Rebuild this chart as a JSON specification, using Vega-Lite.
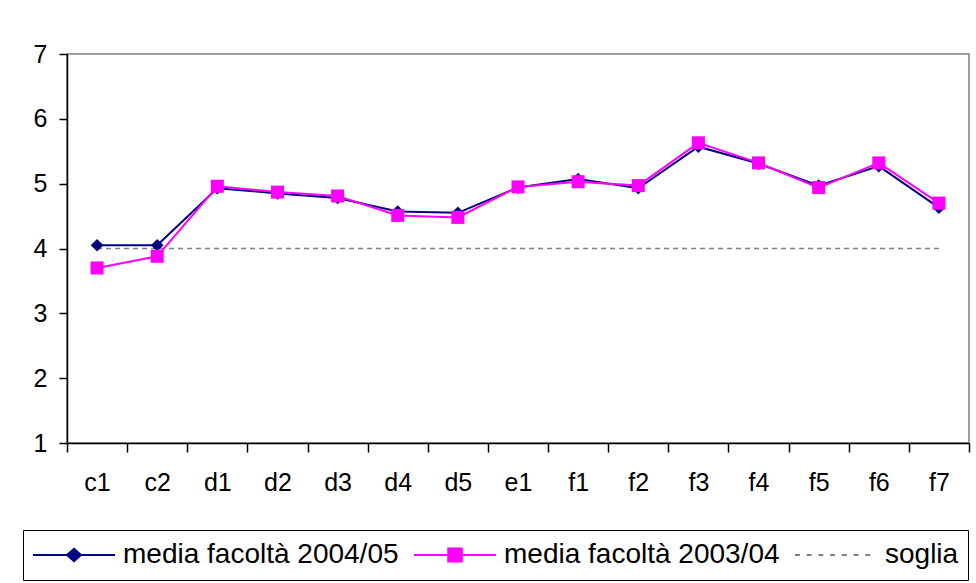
{
  "$schema": "https://vega.github.io/schema/vega-lite/v6.json",
  "width": 902,
  "height": 389,
  "autosize": {"type": "none"},
  "padding": {"left": 67, "top": 54, "right": 7, "bottom": 140},
  "background": "white",
  "config": {
    "font": "Liberation Sans",
    "view": {"stroke": "#808080", "strokeWidth": 1.5},
    "axis": {
      "domainColor": "#000000",
      "domainWidth": 1.5,
      "tickColor": "#000000",
      "tickWidth": 1.5,
      "labelColor": "#000000",
      "labelFont": "Liberation Sans",
      "labelFontSize": 25,
      "grid": false,
      "title": null
    }
  },
  "data": {
    "values": [
      {"cat": "c1", "series": "media facoltà 2004/05", "value": 4.05},
      {"cat": "c2", "series": "media facoltà 2004/05", "value": 4.05},
      {"cat": "d1", "series": "media facoltà 2004/05", "value": 4.93},
      {"cat": "d2", "series": "media facoltà 2004/05", "value": 4.85},
      {"cat": "d3", "series": "media facoltà 2004/05", "value": 4.78},
      {"cat": "d4", "series": "media facoltà 2004/05", "value": 4.57},
      {"cat": "d5", "series": "media facoltà 2004/05", "value": 4.55},
      {"cat": "e1", "series": "media facoltà 2004/05", "value": 4.94},
      {"cat": "f1", "series": "media facoltà 2004/05", "value": 5.07},
      {"cat": "f2", "series": "media facoltà 2004/05", "value": 4.93},
      {"cat": "f3", "series": "media facoltà 2004/05", "value": 5.57},
      {"cat": "f4", "series": "media facoltà 2004/05", "value": 5.31},
      {"cat": "f5", "series": "media facoltà 2004/05", "value": 4.97},
      {"cat": "f6", "series": "media facoltà 2004/05", "value": 5.27},
      {"cat": "f7", "series": "media facoltà 2004/05", "value": 4.63},
      {"cat": "c1", "series": "media facoltà 2003/04", "value": 3.70},
      {"cat": "c2", "series": "media facoltà 2003/04", "value": 3.88},
      {"cat": "d1", "series": "media facoltà 2003/04", "value": 4.96},
      {"cat": "d2", "series": "media facoltà 2003/04", "value": 4.87},
      {"cat": "d3", "series": "media facoltà 2003/04", "value": 4.81},
      {"cat": "d4", "series": "media facoltà 2003/04", "value": 4.51},
      {"cat": "d5", "series": "media facoltà 2003/04", "value": 4.48},
      {"cat": "e1", "series": "media facoltà 2003/04", "value": 4.95},
      {"cat": "f1", "series": "media facoltà 2003/04", "value": 5.03},
      {"cat": "f2", "series": "media facoltà 2003/04", "value": 4.97},
      {"cat": "f3", "series": "media facoltà 2003/04", "value": 5.63},
      {"cat": "f4", "series": "media facoltà 2003/04", "value": 5.32},
      {"cat": "f5", "series": "media facoltà 2003/04", "value": 4.94},
      {"cat": "f6", "series": "media facoltà 2003/04", "value": 5.32},
      {"cat": "f7", "series": "media facoltà 2003/04", "value": 4.70},
      {"cat": "c1", "series": "soglia", "value": 4},
      {"cat": "c2", "series": "soglia", "value": 4},
      {"cat": "d1", "series": "soglia", "value": 4},
      {"cat": "d2", "series": "soglia", "value": 4},
      {"cat": "d3", "series": "soglia", "value": 4},
      {"cat": "d4", "series": "soglia", "value": 4},
      {"cat": "d5", "series": "soglia", "value": 4},
      {"cat": "e1", "series": "soglia", "value": 4},
      {"cat": "f1", "series": "soglia", "value": 4},
      {"cat": "f2", "series": "soglia", "value": 4},
      {"cat": "f3", "series": "soglia", "value": 4},
      {"cat": "f4", "series": "soglia", "value": 4},
      {"cat": "f5", "series": "soglia", "value": 4},
      {"cat": "f6", "series": "soglia", "value": 4},
      {"cat": "f7", "series": "soglia", "value": 4}
    ]
  },
  "encoding": {
    "x": {
      "field": "cat",
      "type": "nominal",
      "bandPosition": 0.5,
      "scale": {
        "type": "band",
        "paddingInner": 0,
        "paddingOuter": 0,
        "domain": ["c1", "c2", "d1", "d2", "d3", "d4", "d5", "e1", "f1", "f2", "f3", "f4", "f5", "f6", "f7"]
      },
      "axis": {"labelAngle": 0, "tickBand": "extent", "tickSize": 9, "labelPadding": 18, "labelBaseline": "top"}
    },
    "y": {
      "field": "value",
      "type": "quantitative",
      "scale": {"domain": [1, 7], "nice": false, "zero": false},
      "axis": {"values": [1, 2, 3, 4, 5, 6, 7], "tickSize": 8, "labelPadding": 12}
    },
    "color": {
      "field": "series",
      "type": "nominal",
      "scale": {
        "domain": ["media facoltà 2004/05", "media facoltà 2003/04", "soglia"],
        "range": ["#000080", "#FF00FF", "#808080"]
      },
      "legend": {
        "orient": "none",
        "legendX": -44,
        "legendY": 476,
        "direction": "horizontal",
        "columns": 3,
        "title": null,
        "strokeColor": "#000000",
        "padding": 9,
        "labelFont": "Liberation Sans",
        "labelFontSize": 28,
        "labelColor": "#000000",
        "labelOffset": 7,
        "labelLimit": 400,
        "columnPadding": 14,
        "symbolSize": 6724,
        "clipHeight": 32,
        "encode": {
          "symbols": {
            "update": {
              "shape": {"signal": "datum.value == 'soglia' ? 'M-1,0H-0.88M-0.714,0H-0.594M-0.429,0H-0.309M-0.143,0H-0.023M0.143,0H0.263M0.429,0H0.549M0.714,0H0.834' : (datum.value == 'media facoltà 2004/05' ? 'M-1,0H1M0,-0.15L0.17,0L0,0.15L-0.17,0Z' : 'M-1,0H1M-0.165,-0.16H0.165V0.16H-0.165Z')"},
              "size": {"value": 6724},
              "stroke": {"scale": "color", "field": "value"},
              "fill": {"scale": "color", "field": "value"},
              "strokeWidth": {"value": 2},
              "opacity": {"value": 1},
              "fillOpacity": {"value": 1},
              "strokeOpacity": {"value": 1}
            }
          }
        }
      }
    }
  },
  "layer": [
    {
      "transform": [{"filter": "datum.series == 'soglia'"}],
      "mark": {"type": "line", "strokeDash": [5, 4], "strokeWidth": 1.3}
    },
    {
      "transform": [{"filter": "datum.series == 'media facoltà 2004/05'"}],
      "mark": {"type": "line", "strokeWidth": 2}
    },
    {
      "transform": [{"filter": "datum.series == 'media facoltà 2004/05'"}],
      "mark": {"type": "point", "shape": "diamond", "filled": true, "size": 160, "opacity": 1}
    },
    {
      "transform": [{"filter": "datum.series == 'media facoltà 2003/04'"}],
      "mark": {"type": "line", "strokeWidth": 2}
    },
    {
      "transform": [{"filter": "datum.series == 'media facoltà 2003/04'"}],
      "mark": {"type": "point", "shape": "square", "filled": true, "size": 170, "opacity": 1}
    }
  ]
}
